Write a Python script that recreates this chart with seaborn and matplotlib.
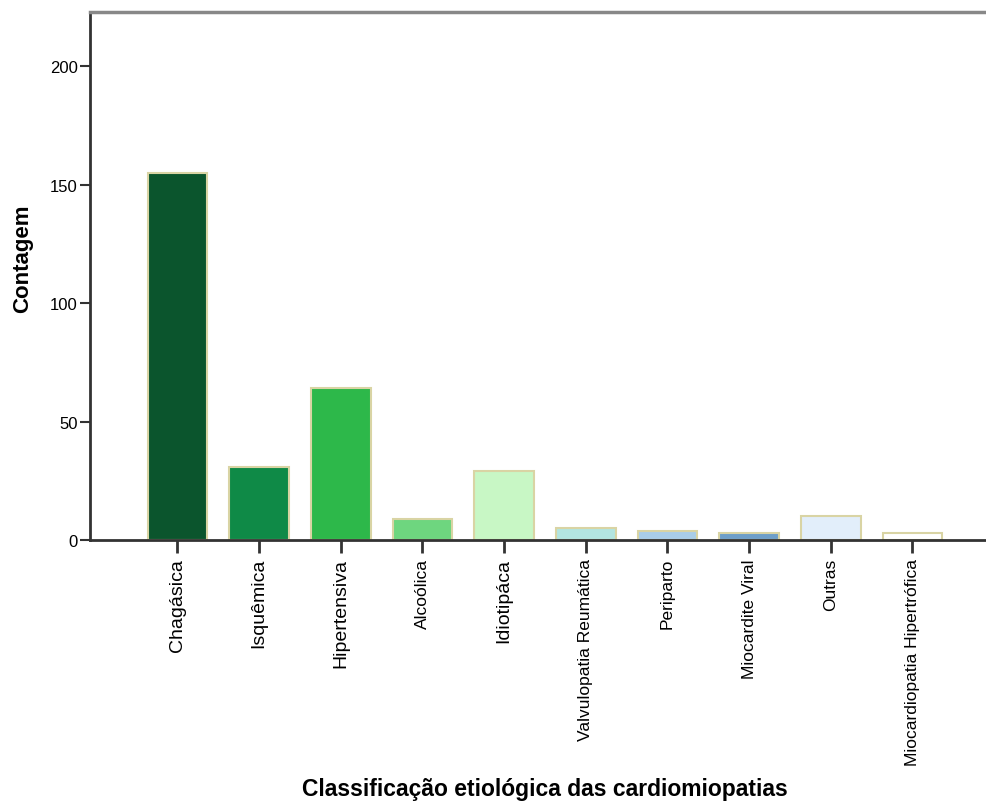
import matplotlib
matplotlib.use("Agg")
import matplotlib.pyplot as plt
import seaborn as sns
import pandas as pd

# Dados
categorias = ["Chagásica", "Isquêmica", "Hipertensiva", "Alcoólica", "Idiotipáca",
              "Valvulopatia Reumática", "Periparto", "Miocardite Viral", "Outras",
              "Miocardiopatia Hipertrófica"]
contagem = [155, 31, 64, 9, 29, 5, 4, 3, 10, 3]
cores = ["#0b552d", "#0f8a47", "#2db84a", "#6ed67f", "#c8f7c5",
         "#b3e5e0", "#a9cde8", "#6e9fc9", "#e2eefa", "#ffffff"]
tamanho_rotulo = [14, 14, 14, 12.5, 14, 12.5, 12.5, 12.5, 12.5, 12.5]

df = pd.DataFrame({"categoria": categorias, "contagem": contagem})

sns.set_style("white")
plt.rcParams['font.family'] = ['Liberation Sans', 'DejaVu Sans']

fig = plt.figure(figsize=(9.86, 8.03), dpi=100)
ax = fig.add_axes([0.0913, 0.3263, 0.9087, 0.6575])

sns.barplot(data=df, x="categoria", y="contagem", hue="categoria", palette=cores,
            saturation=1, legend=False, width=0.73, edgecolor="#d9d4a4",
            linewidth=1.5, ax=ax)

ax.set_ylim(0, 223)
ax.set_xlim(-1.07, 9.9)
ax.set_yticks([0, 50, 100, 150, 200])
ax.tick_params(axis="y", left=True, length=7, width=1.5, labelsize=12,
               color="#333333", labelcolor="black", pad=2)
ax.tick_params(axis="x", bottom=True, length=9, width=2, color="#333333",
               labelcolor="black", pad=4)
ax.set_xticks(range(len(categorias)))
ax.set_xticklabels(categorias, rotation=90)
for lbl, fs in zip(ax.get_xticklabels(), tamanho_rotulo):
    lbl.set_fontsize(fs)

ax.set_ylabel("Contagem", fontsize=16, fontweight="bold", color="black")
ax.set_xlabel("Classificação etiológica das cardiomiopatias", fontsize=16.5,
              fontweight="bold", color="black")
ax.yaxis.set_label_coords(-0.075, 0.534)
ax.xaxis.set_label_coords(0.508, -0.4716)
ax.xaxis.label.set_va("center")
ax.yaxis.label.set_va("center")

for lado in ["left", "bottom"]:
    ax.spines[lado].set_color("#333333")
    ax.spines[lado].set_linewidth(2)
ax.spines["top"].set_color("#888888")
ax.spines["top"].set_linewidth(2.5)
ax.spines["right"].set_visible(False)

fig.savefig("out.png", dpi=100)
